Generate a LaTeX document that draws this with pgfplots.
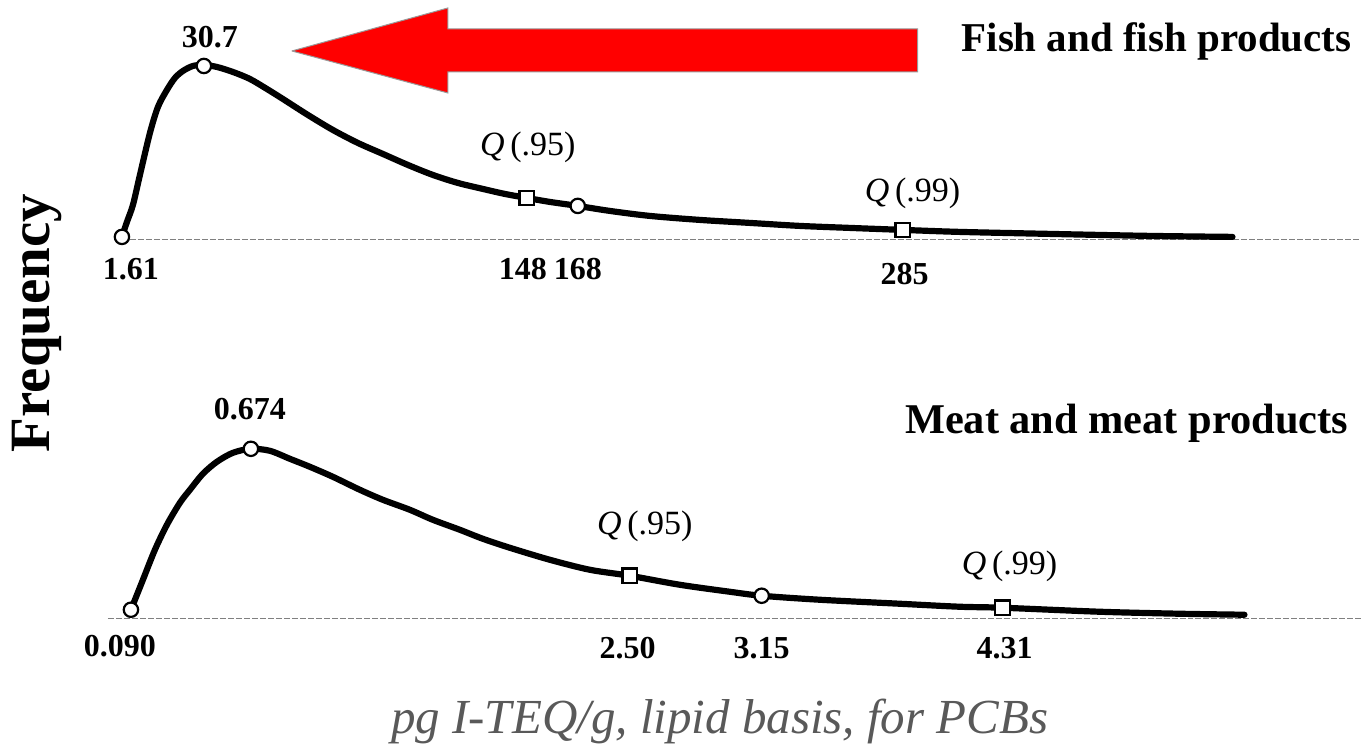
\documentclass[border=0pt]{standalone}
\usepackage{pgfplots}
\pgfplotsset{compat=1.18}
\usepackage{fontspec}
\setmainfont{Liberation Serif}
\definecolor{arrowred}{HTML}{FF0000}
\definecolor{labelgray}{HTML}{595959}
\begin{document}
\begin{tikzpicture}
\begin{axis}[
  width=681pt, height=374pt, scale only axis,
  xmin=0, xmax=1362, ymin=0, ymax=748, y dir=reverse,
  hide axis, clip=false,
]
% frame of the page
\addplot[draw=none] coordinates {(0,0) (1362,748)};
% baselines
\addplot[gray, line width=0.6pt, dash pattern=on 3pt off 1pt] coordinates {(130,240) (1362,240)};
\addplot[gray, line width=0.6pt, dash pattern=on 3pt off 1pt] coordinates {(108,619) (1362,619)};
% red arrow
\addplot[fill=arrowred, draw=gray!80, line width=0.5pt] coordinates {(292,51) (448,8) (448,29) (918,29) (918,72) (448,72) (448,93) (292,51)};
% fish curve
\addplot[black, line width=3.1pt, smooth, tension=0.5, line cap=round] coordinates {
(122,237) (127,222) (133,205) (140,175) (150,133) (158,107) (167,90) (175,78) (183,71) (193,66) (204,65) (217,67) (233,72) (250,79) (267,89) (283,99) (308,115) (333,130) (358,143) (383,154) (408,165) (433,175) (458,183) (483,189) (505,194) (527,198) (550,202) (578,206) (610,211) (650,216) (700,220) (750,223) (800,226) (850,228) (903,230) (960,232) (1050,234) (1150,236) (1233,237)};
% meat curve
\addplot[black, line width=3.1pt, smooth, tension=0.5, line cap=round] coordinates {
(131,610) (143,580) (155,550) (167,525) (180,503) (190,490) (203,474) (217,462) (233,453) (251,449) (270,451) (290,459) (310,467) (333,477) (360,490) (383,500) (410,510) (433,520) (460,530) (483,539) (510,548) (550,560) (590,570) (630,576) (680,585) (730,592) (762,596) (820,600) (900,604) (960,607) (1003,608) (1100,612) (1180,614) (1245,615)};
% circle markers
\addplot[only marks, mark=*, mark size=3.6pt, mark options={fill=white, draw=black, line width=1.1pt}] coordinates {
(122,237) (204,66) (578,206) (131,610) (251,449) (762,596)};
% square markers
\addplot[only marks, mark=square*, mark size=3.6pt, mark options={fill=white, draw=black, line width=1.1pt}] coordinates {
(527,198) (903,230) (630,576) (1003,608)};
% labels
\begin{scope}[every node/.style={font=\fontsize{16}{18}\selectfont\bfseries, inner sep=0pt}]
\node at (axis cs:210,37) {30.7};
\node at (axis cs:131,269) {1.61};
\node at (axis cs:523,269) {148};
\node at (axis cs:578,269) {168};
\node at (axis cs:905,274) {285};
\node at (axis cs:250,409) {0.674};
\node at (axis cs:120,646) {0.090};
\node at (axis cs:628,648) {2.50};
\node at (axis cs:762,648) {3.15};
\node at (axis cs:1005,648) {4.31};
\end{scope}
\begin{scope}[every node/.style={font=\fontsize{17}{19}\selectfont, inner sep=0pt}]
\node at (axis cs:528,147) {\textit{Q}\,(.95)};
\node at (axis cs:913,193) {\textit{Q}\,(.99)};
\node at (axis cs:645,527) {\textit{Q}\,(.95)};
\node at (axis cs:1010,567) {\textit{Q}\,(.99)};
\end{scope}
\node[font=\fontsize{20.5}{23}\selectfont\bfseries, inner sep=0pt] at (axis cs:1157,41) {Fish and fish products};
\node[font=\fontsize{21.2}{23}\selectfont\bfseries, inner sep=0pt] at (axis cs:1127,423) {Meat and meat products};
\node[font=\fontsize{28.5}{30}\selectfont\bfseries, rotate=90, inner sep=0pt] at (axis cs:37,323) {Frequency};
\node[font=\fontsize{24.5}{27}\selectfont\itshape, text=labelgray, inner sep=0pt] at (axis cs:720,722) {pg I-TEQ/g, lipid basis, for PCBs};
\end{axis}
\end{tikzpicture}
\end{document}
